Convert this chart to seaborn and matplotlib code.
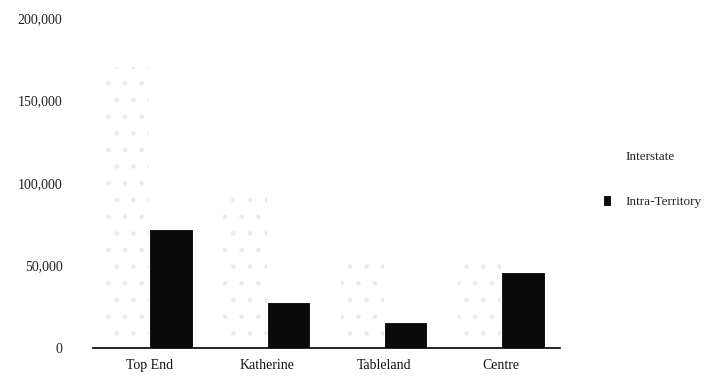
import matplotlib.pyplot as plt
import matplotlib.patches
import pandas as pd
import seaborn as sns

sns.set_theme("paper", style="white")
plt.rcParams["font.family"] = ["Liberation Serif", "DejaVu Serif"]

regions = ["Top End", "Katherine", "Tableland", "Centre"]
interstate = [170000, 97000, 58000, 57000]
intra_territory = [72000, 28000, 16000, 46000]
series = ["Interstate", "Intra-Territory"]

df = pd.DataFrame(
    {
        "region": regions * 2,
        "visitors": interstate + intra_territory,
        "type": [series[0]] * len(regions) + [series[1]] * len(regions),
    }
)

fig = plt.figure(figsize=(7.08, 3.79), dpi=100)
ax = fig.add_axes([93 / 708, 31 / 379, 467 / 708, 330 / 379])
sns.barplot(
    data=df,
    x="region",
    y="visitors",
    hue="type",
    hue_order=series,
    palette=["white", "#0a0a0a"],
    width=0.74,
    gap=0,
    ax=ax,
    legend=False,
)
# interstate bars are white with a faint dot screen
for patch in ax.patches[: len(regions)]:
    patch.set_edgecolor("#ebebeb")
    patch.set_linewidth(0)
    patch.set_hatch(".")

ax.set_ylim(0, 200000)
ax.set_xlim(-0.48, 3.5)
ax.set_yticks([0, 50000, 100000, 150000, 200000])
ax.yaxis.set_major_formatter(lambda x, p: f"{x:,.0f}")
ax.tick_params(axis="y", length=0, pad=22, labelsize=10, labelcolor="#222222")
ax.tick_params(axis="x", length=0, pad=8, labelsize=10, labelcolor="#111111")
ax.set_xlabel("")
ax.set_ylabel("")
for s in ["top", "right", "left"]:
    ax.spines[s].set_visible(False)
ax.spines["bottom"].set_color("black")
ax.spines["bottom"].set_linewidth(1.2)
ax.grid(False)

fig.legend(
    [
        matplotlib.patches.Patch(facecolor="white", edgecolor="white"),
        matplotlib.patches.Patch(facecolor="#0a0a0a"),
    ],
    series,
    loc="upper left",
    bbox_to_anchor=(603 / 708, 1 - 150 / 379),
    frameon=False,
    fontsize=9.5,
    handlelength=0.6,
    handleheight=0.9,
    labelspacing=2.4,
    handletextpad=1.1,
    borderaxespad=0,
    borderpad=0,
)

fig.savefig("out.png", dpi=100)
